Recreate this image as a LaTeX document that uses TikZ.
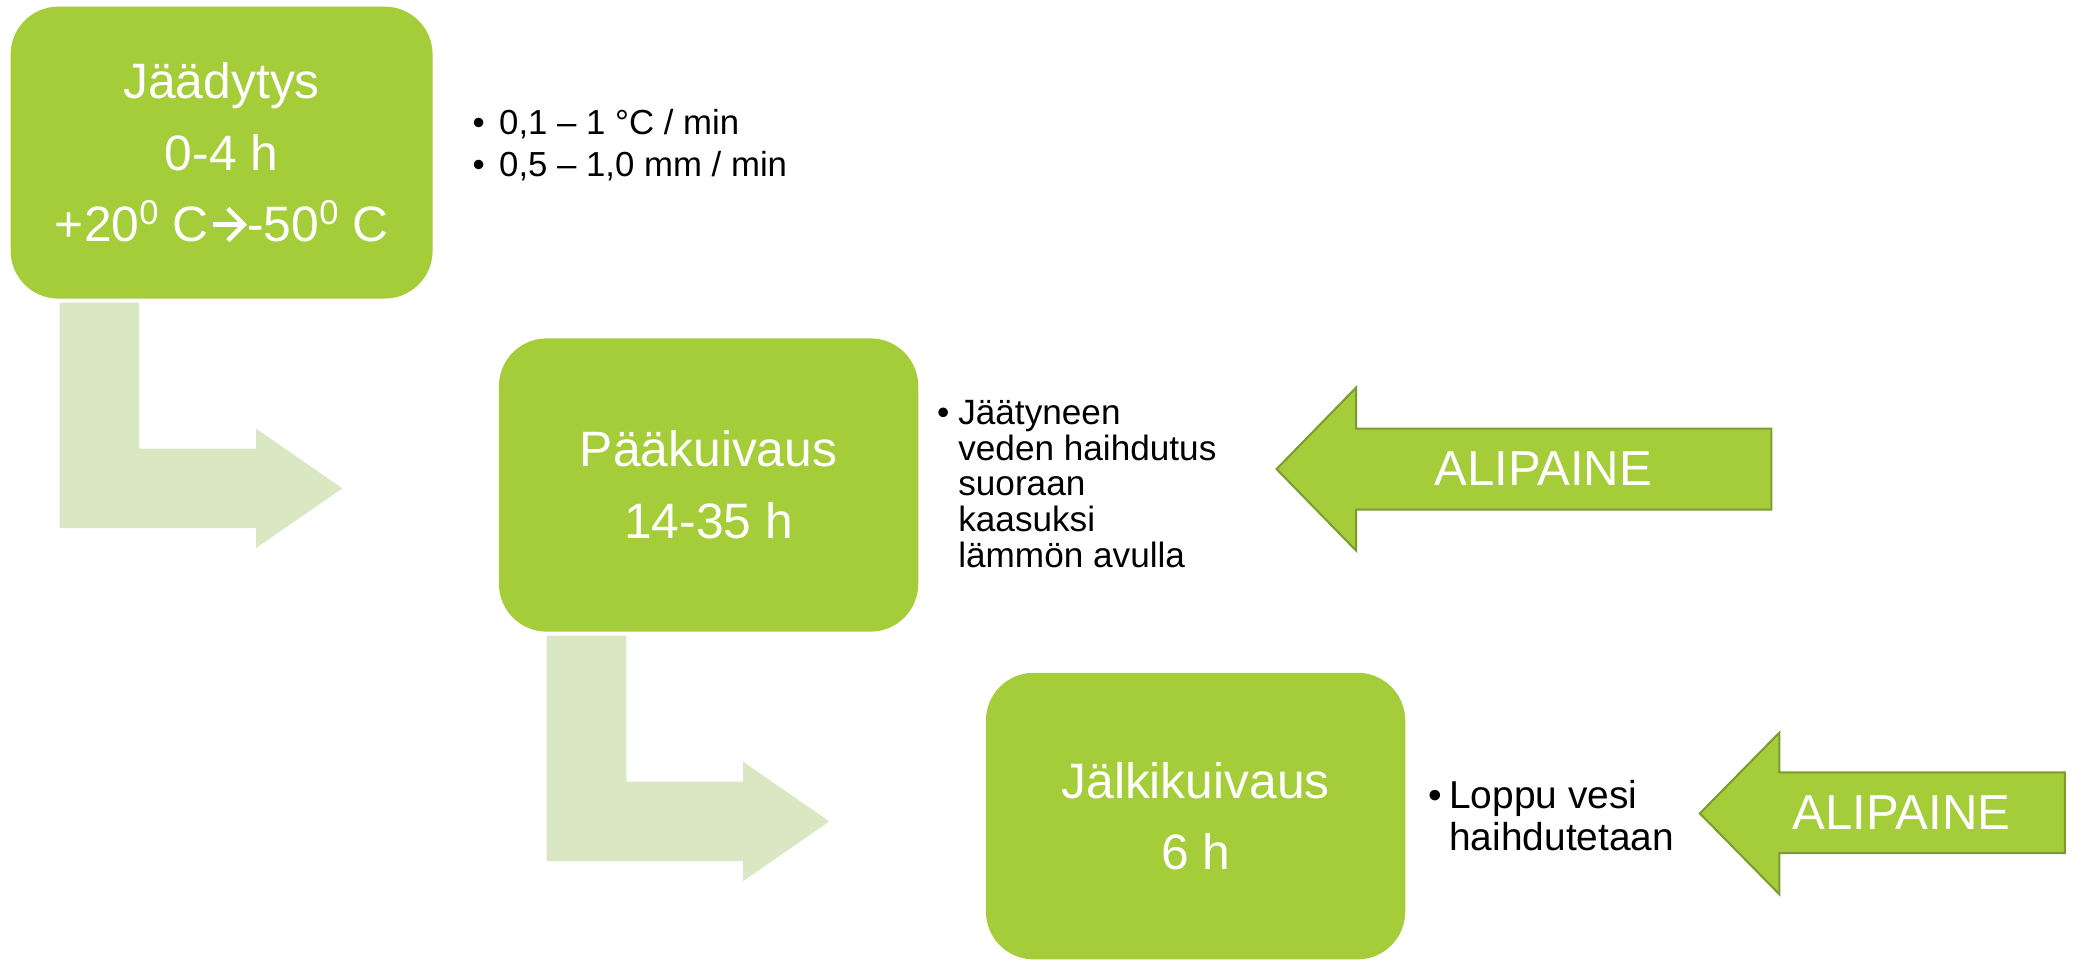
\documentclass[tikz,border=0pt]{standalone}
\usepackage{fontspec}
\setmainfont{Liberation Sans}
\definecolor{boxgreen}{HTML}{A5CC39}
\definecolor{lightgreen}{HTML}{D9E7C3}
\definecolor{edgegreen}{HTML}{7B9B2E}
\tikzset{
  stage/.style={fill=boxgreen, rounded corners=36pt, text=white, align=center,
    font=\fontsize{37.5}{54}\selectfont, inner sep=0pt},
  vac/.style={fill=boxgreen, draw=edgegreen, line width=1.5pt},
  vactext/.style={text=white, font=\fontsize{37}{44}\selectfont, inner sep=0pt},
  note/.style={anchor=base west, inner sep=0pt},
  bentarrow/.pic={\fill[lightgreen] (0,0) -- (60,0) -- (60,110) -- (148,110) -- (148,95)
     -- (213,140) -- (148,185) -- (148,170) -- (0,170) -- cycle;}
}
\newsavebox\arrowglyph
\newcommand\degsup{\raisebox{13pt}{\fontsize{26}{26}\selectfont 0}}
\begin{document}
\sbox\arrowglyph{\begin{pgfpicture}%
  \pgfsetlinewidth{3.4pt}\pgfsetstrokecolor{white}\pgfsetmiterjoin
  \pgfpathmoveto{\pgfpoint{0pt}{13pt}}\pgfpathlineto{\pgfpoint{22pt}{13pt}}%
  \pgfusepath{stroke}%
  \pgfpathmoveto{\pgfpoint{11pt}{25pt}}\pgfpathlineto{\pgfpoint{23pt}{13pt}}%
  \pgfpathlineto{\pgfpoint{11pt}{1pt}}\pgfusepath{stroke}%
  \pgfsetbaseline{0pt}%
\end{pgfpicture}}
\begin{tikzpicture}[x=1pt,y=-1pt]
\useasboundingbox (0,0) rectangle (1566,724);

% stages
\node[stage, minimum width=318pt, minimum height=220pt] (b1) at (167,115)
  {Jäädytys\\0-4 h\\+20\degsup\ C\hspace{2pt}\usebox\arrowglyph\hspace{1pt}-50\degsup\ C};
\node[stage, minimum width=316pt, minimum height=221pt] (b2) at (534,365.5)
  {Pääkuivaus\\14-35 h};
\node[stage, minimum width=316pt, minimum height=216pt] (b3) at (901,615)
  {Jälkikuivaus\\6 h};

% bent arrows
\pic (a1) at (45,228) {bentarrow};
\pic (a2) at (412,479) {bentarrow};

% notes
\node[note, font=\fontsize{26.2}{31.4}\selectfont] (n1) at (356,101.7)
  {\begin{tabular}[t]{@{}l@{}l@{}}\makebox[20pt][l]{•} & 0,1 – 1 °C / min\\
   \makebox[20pt][l]{•} & 0,5 – 1,0 mm / min\end{tabular}};
\node[note, font=\fontsize{26.5}{26.6}\selectfont] (n2) at (706,319.8)
  {\begin{tabular}[t]{@{}l@{}l@{}}\makebox[16pt][l]{•} & Jäätyneen\\
   & veden haihdutus\\ & suoraan\\ & kaasuksi\\ & lämmön avulla\end{tabular}};
\node[note, font=\fontsize{29.3}{32}\selectfont] (n3) at (1076,609.2)
  {\begin{tabular}[t]{@{}l@{}l@{}}\makebox[16pt][l]{•} & Loppu vesi\\
   & haihdutetaan\end{tabular}};

% vacuum arrows
\draw[vac] (962,353.5) -- (1022,292) -- (1022,323) -- (1335,323) -- (1335,384)
  -- (1022,384) -- (1022,415) -- cycle;
\node[vactext] (v1) at (1163,353.5) {ALIPAINE};
\draw[vac] (1281,613) -- (1341,552) -- (1341,582) -- (1556,582) -- (1556,643)
  -- (1341,643) -- (1341,674) -- cycle;
\node[vactext] (v2) at (1433,612.5) {ALIPAINE};
\end{tikzpicture}
\end{document}
